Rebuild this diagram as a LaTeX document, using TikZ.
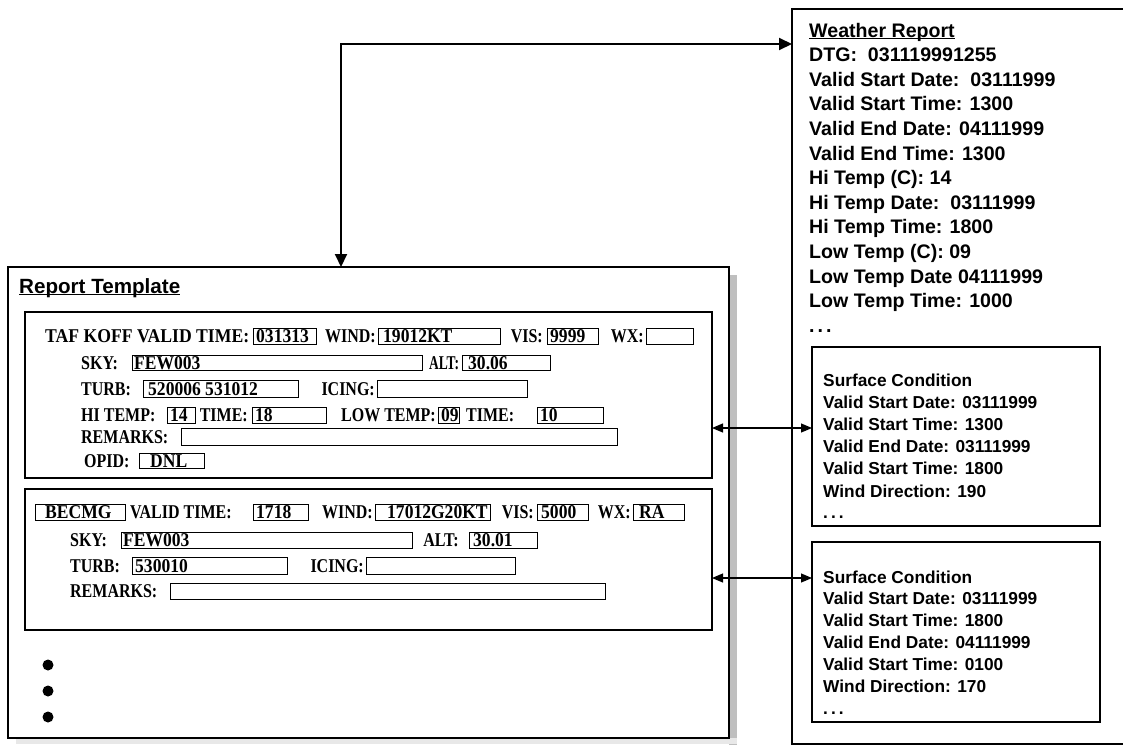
\documentclass[tikz,border=0pt]{standalone}
\usepackage{graphicx}
\usepackage{fontspec}
\setmainfont{Liberation Serif}
\newfontfamily\tms{Liberation Serif}[FakeStretch=0.9]
\newfontfamily\tmsn{Liberation Serif}[FakeStretch=0.82]
\newfontfamily\arl{Liberation Sans}
\usetikzlibrary{arrows.meta}
\tikzset{
  fbox/.style={draw, line width=0.9pt, inner sep=0pt, outer sep=0pt},
  ftext/.style={font=\tms\bfseries\fontsize{19.5}{20}\selectfont, inner sep=0pt, anchor=base west},
  ltext/.style={font=\tmsn\bfseries\fontsize{19.5}{20}\selectfont, inner sep=0pt, anchor=base west},
  rtext/.style={ltext, anchor=base east},
  panel/.style={draw, line width=1.4pt, inner sep=0pt, outer sep=0pt, fill=white},
  wrline/.style={font=\arl\bfseries\fontsize{19.6}{20}\selectfont, inner sep=0pt, anchor=base west},
  scline/.style={font=\arl\bfseries\fontsize{17.3}{18}\selectfont, inner sep=0pt, anchor=base west},
  bigarrow/.style={line width=2pt, {Triangle[length=13pt,width=12pt]}-{Triangle[length=13pt,width=12pt]}},
  dblarrow/.style={line width=1.1pt, {Triangle[length=11pt,width=9pt]}-{Triangle[length=11pt,width=9pt]}},
  bullet/.style={circle, fill=black, inner sep=0pt, minimum size=11pt}
}
% name, x1, y1, x2, y2
\newcommand\pnl[6][panel]{%
  \node[#1, minimum width={#5-#3}, minimum height={#6-#4}] (#2) at ({(#3+#5)/2},{(#4+#6)/2}) {};}
% name, x1, y1, x2, y2, text x, text
\newcommand\fld[7]{%
  \node[fbox, minimum width={#4-#2}, minimum height={#5-#3}] (#1) at ({(#2+#4)/2},{(#3+#5)/2}) {};
  \node[ftext] (#1t) at (#6,{(#3+#5)/2+6.5}) {#7};}
\newcommand\ulbox[1]{{\setbox0\hbox{#1}\rlap{\rule[-2.2pt]{\wd0}{1.3pt}}\box0}}

\begin{document}
\begin{tikzpicture}[x=1pt, y=-1pt]
\useasboundingbox (0,0) rectangle (1123,747);

% shadow and outer panels
\fill[gray!50] (729,275) rectangle (737,745);
\fill[gray!18] (16,738) rectangle (737,744);
\pnl{tmpl}{8}{267}{729}{738}
\pnl{wr}{792}{9}{1132}{744}

\pnl{sec1}{25}{312}{712}{478}
\pnl{sec2}{25}{489}{712}{630}
\pnl{sc1}{812}{347}{1100}{526}
\pnl{sc2}{812}{542}{1100}{722}

% headings
\node[wrline, font=\arl\bfseries\fontsize{20.6}{21}\selectfont] (tmplhead) at (19,293) {\ulbox{Report Template}};

% ---- section 1 ----
\node[ltext] (l11) at (45,342.5) {\resizebox{204pt}{\height}{TAF KOFF VALID TIME:}};
\fld{f11}{253}{328}{316}{344}{256}{031313}
\node[rtext] (l12) at (376,342.5) {WIND:};
\fld{f12}{378}{328}{500}{344}{383}{19012KT}
\node[rtext] (l13) at (543,342.5) {VIS:};
\fld{f13}{547}{328}{598}{344}{550}{9999}
\node[rtext] (l14) at (644,342.5) {WX:};
\fld{f14}{646}{328}{693}{344}{650}{}

\node[ltext] (l21) at (81,369) {SKY:};
\fld{f21}{132}{355}{422}{370}{134}{FEW003}
\node[ltext] (l22) at (429,369) {\resizebox{30pt}{\height}{ALT:}};
\fld{f22}{462}{355}{550}{370}{468}{30.06}

\node[ltext] (l31) at (81,395) {TURB:};
\fld{f31}{143}{380}{298}{397}{148}{520006 531012}
\node[rtext] (l32) at (375,395) {ICING:};
\fld{f32}{377}{380}{527}{397}{380}{}

\node[ltext] (l41) at (81,421.5) {HI TEMP:};
\fld{f41}{167}{407}{195}{423}{170}{14}
\node[rtext] (l42) at (248,421.5) {TIME:};
\fld{f42}{252}{407}{326}{423}{255}{18}
\node[rtext] (l43) at (436,421.5) {LOW TEMP:};
\fld{f43}{438}{407}{459}{423}{441}{09}
\node[ltext] (l44) at (466,421.5) {TIME:};
\fld{f44}{537}{407}{603}{423}{540}{10}

\node[ltext] (l51) at (81,443) {REMARKS:};
\fld{f51}{181}{428}{617}{445}{184}{}

\node[ltext] (l61) at (84,467) {OPID:};
\fld{f61}{139}{453}{204}{468}{150}{DNL}

% ---- section 2 ----
\fld{g10}{35}{504}{125}{520}{45}{BECMG}
\node[ltext] (m11) at (130,518.5) {VALID TIME:};
\fld{g11}{253}{504}{308}{520}{256}{1718}
\node[rtext] (m12) at (373,518.5) {WIND:};
\fld{g12}{375}{504}{490}{520}{387}{17012G20KT}
\node[rtext] (m13) at (534,518.5) {VIS:};
\fld{g13}{537}{504}{588}{520}{541}{5000}
\node[rtext] (m14) at (631,518.5) {WX:};
\fld{g14}{633}{504}{684}{520}{639}{RA}

\node[ltext] (m21) at (70,546.5) {SKY:};
\fld{g21}{121}{532}{412}{548}{123}{FEW003}
\node[rtext] (m22) at (459,546.5) {ALT:};
\fld{g22}{469}{532}{537}{548}{473}{30.01}

\node[ltext] (m31) at (70,572) {TURB:};
\fld{g31}{132}{557}{287}{574}{135}{530010}
\node[rtext] (m32) at (364,572) {ICING:};
\fld{g32}{366}{557}{515}{574}{369}{}

\node[ltext] (m41) at (70,597.5) {REMARKS:};
\fld{g41}{170}{583}{605}{599}{173}{}

% bullets
\node[bullet] (b1) at (48,665) {};
\node[bullet] (b2) at (48,691) {};
\node[bullet] (b3) at (48,717) {};

% ---- weather report ----
\node[wrline] (wr0) at (809,37) {\ulbox{Weather Report}};
\foreach \t [count=\i] in {DTG:\ \ 031119991255, Valid Start Date:\ \ 03111999,
  Valid Start Time: 1300, Valid End Date: 04111999, Valid End Time: 1300,
  Hi Temp (C): 14, Hi Temp Date:\ \ 03111999, Hi Temp Time: 1800,
  Low Temp (C): 09, Low Temp Date 04111999, Low Temp Time: 1000}
  \node[wrline] (wr\i) at (809,{37+24.6*\i}) {\t};
\node[wrline] (wrdots) at (809,332) {.\hspace{3pt}.\hspace{3pt}.};

% ---- surface conditions ----
\foreach \t [count=\i from 0] in {Surface Condition, Valid Start Date: 03111999,
  Valid Start Time: 1300, Valid End Date: 03111999, Valid Start Time: 1800,
  Wind Direction: 190}
  \node[scline] (sa\i) at (823,{386+22.2*\i}) {\t};
\node[scline] (sadots) at (823,518) {.\hspace{3pt}.\hspace{3pt}.};
\foreach \t [count=\i from 0] in {Surface Condition, Valid Start Date: 03111999,
  Valid Start Time: 1800, Valid End Date: 04111999, Valid Start Time: 0100,
  Wind Direction: 170}
  \node[scline] (sb\i) at (823,{583+21.8*\i}) {\t};
\node[scline] (sbdots) at (823,714) {.\hspace{3pt}.\hspace{3pt}.};

% ---- connectors ----
\coordinate (bend) at (341,44);
\draw[bigarrow] (bend -| wr.west) -- (bend) -- (bend |- tmpl.north);
\coordinate (ya) at (0,428);
\coordinate (yb) at (0,578);
\draw[dblarrow] (sec1.east |- ya) -- (sc1.west |- ya);
\draw[dblarrow] (sec2.east |- yb) -- (sc2.west |- yb);
\end{tikzpicture}
\end{document}
